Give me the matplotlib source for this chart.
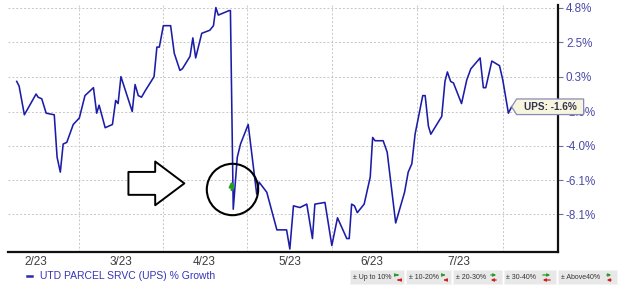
import matplotlib
matplotlib.use("Agg")
import matplotlib.pyplot as plt
import numpy as np
from matplotlib.patches import Polygon, Rectangle, FancyArrowPatch
from matplotlib.lines import Line2D

plt.rcParams['font.family'] = ['Liberation Sans', 'DejaVu Sans']

# trading-session position and % growth of UPS
session = [0, 0.6, 1.9, 4.8, 5.3, 6.2, 7.3, 9.3, 10.0, 10.8, 11.5, 12.4, 14.0, 15.5, 16.9,
           19.0, 19.8, 20.4, 21.9, 23.7, 24.5, 25.1, 25.8, 28.6, 29.3, 30.1, 30.9, 31.8,
           34.0, 34.7, 35.3, 36.3, 38.1, 39.0, 40.4, 41.0, 42.9, 43.6, 44.3, 45.8, 47.8,
           48.7, 49.3, 49.9, 52.6, 52.9, 53.6, 54.6, 55.4, 57.3, 59.4, 60.0, 61.9, 64.4,
           66.8, 67.6, 68.5, 70.1, 71.8, 73.2, 73.8, 76.3, 78.0, 79.4, 81.7, 82.3, 82.9,
           83.6, 84.3, 86.0, 87.5, 88.1, 88.7, 90.7, 91.7, 93.8, 96.0, 96.9, 97.8, 98.6,
           100.5, 101.1, 101.9, 102.5, 105.2, 106.0, 106.6, 107.4, 108.1, 110.1, 111.4,
           112.4, 114.7, 115.5, 116.1, 117.6, 119.5, 120.3, 121.7, 122.5]
growth = [0.0, -0.3, -2.1, -0.8, -1.0, -1.1, -2.0, -2.1, -4.7, -5.6, -3.9, -3.8, -2.7, -2.3, -0.9,
          -0.4, -2.0, -1.5, -2.9, -2.7, -1.2, -1.4, 0.3, -1.9, -0.2, -0.9, -1.0, -0.6,
          0.3, 2.2, 2.2, 3.6, 3.6, 1.8, 0.7, 0.8, 1.6, 2.8, 1.5, 3.1, 3.3,
          3.6, 4.8, 4.3, 4.6, 4.6, -7.8, -4.7, -3.9, -2.7, -6.9, -6.2, -6.8, -9.0,
          -9.0, -10.1, -7.6, -7.7, -7.5, -9.5, -7.5, -7.4, -9.9, -8.3, -9.5, -9.5, -7.5,
          -7.6, -8.0, -7.5, -5.9, -3.5, -3.7, -3.7, -4.4, -8.6, -6.8, -5.6, -5.1, -3.3,
          -0.9, -0.9, -2.8, -3.3, -2.2, 0.0, 0.6, 0.0, -0.1, -1.4, 0.1,
          0.8, 1.5, -0.4, -0.4, 1.3, 1.0, 0.1, -2.0, -1.6]

month_labels = ['2/23', '3/23', '4/23', '5/23', '6/23', '7/23']
month_pos = [4.8, 25.7, 46.4, 67.7, 87.9, 109.3]
grid_pos = [15.3, 36.3, 57.1, 78.1, 99.0, 120.3]
y_ticks = [4.8, 2.5, 0.3, -1.9, -4.0, -6.1, -8.1]
band_labels = ['\u00b1 Up to 10%', '\u00b1 10-20%', '\u00b1 20-30%', '\u00b1 30-40%', '\u00b1 Above40%']

event_x, event_y = 53.2, -6.6  # circled earnings gap

W, H = 620, 285
fig = plt.figure(figsize=(W / 100, H / 100), dpi=100)
ax = fig.add_axes([8 / W, 1 - 252 / H, 550.3 / W, 247 / H])

fwd = lambda g: np.log1p(np.asarray(g) / 100.0)
inv = lambda L: np.expm1(np.asarray(L)) * 100.0
ax.set_yscale('function', functions=(fwd, inv))

ax.plot(session, growth, color='#1c1ca8', lw=1.15, zorder=3)

ax.set_xlim(-2.15, 134.05)
ax.set_ylim(-10.27, 4.97)

ax.set_yticks(y_ticks)
ax.set_yticklabels([f'{v:.1f}%' for v in y_ticks])
ax.yaxis.tick_right()
ax.tick_params(axis='y', which='major', length=3.5, width=0.8, color='#7070a0',
               labelcolor='#4a4aa6', labelsize=8.4, pad=2)
ax.yaxis.set_minor_locator(matplotlib.ticker.NullLocator())

ax.set_xticks(month_pos)
ax.set_xticklabels(month_labels)
ax.set_xticks(grid_pos, minor=True)
ax.tick_params(axis='x', which='both', length=0, labelsize=8.5, labelcolor='#3c3c3c', pad=3)

ax.yaxis.grid(True, color='#c6c6c6', linestyle=(0, (2, 2)), lw=0.7)
ax.xaxis.grid(True, which='minor', color='#c6c6c6', linestyle=(0, (2, 2)), lw=0.7)
ax.xaxis.grid(False, which='major')
ax.set_axisbelow(True)

for s in ['top', 'left']:
    ax.spines[s].set_visible(False)
for s in ['right', 'bottom']:
    ax.spines[s].set_color('#111111')
    ax.spines[s].set_linewidth(1.6)

# circle round the gap
ax.plot([event_x], [event_y], marker='o', ms=37, mfc='none', mec='black', mew=1.5, zorder=4)

fig.canvas.draw()
to_fig = lambda px, py: (px / W, py / H)
cx, cy = ax.transData.transform((event_x, event_y))

# hollow pointer arrow to the left of the circle
fig.add_artist(FancyArrowPatch(to_fig(cx - 106, cy + 5.5), to_fig(cx - 44.5, cy + 5.5),
                               transform=fig.transFigure,
                               arrowstyle='simple,head_length=21,head_width=31.5,tail_width=16.5',
                               mutation_scale=1, fc='white', ec='black', lw=1.4, zorder=4))
# small green up arrow inside the circle
fig.add_artist(FancyArrowPatch(to_fig(cx, cy - 4), to_fig(cx, cy + 10.5),
                               transform=fig.transFigure, arrowstyle='-|>',
                               mutation_scale=7, color='#22a022', lw=1.6, zorder=4))

# last-value tooltip
tx, ty = ax.transData.transform((session[-1], growth[-1]))
pts = [(tx, ty), (tx + 5, ty + 7.8), (tx + 72, ty + 7.8), (tx + 72, ty - 7.8), (tx + 5, ty - 7.8)]
fig.add_artist(Polygon([to_fig(*p) for p in pts], closed=True, transform=fig.transFigure,
                       fc='#f7f5de', ec='#8a8ab8', lw=0.9, zorder=6))
fig.text(*to_fig(tx + 39, ty), f'UPS: {growth[-1]:.1f}%', ha='center', va='center',
         fontsize=7.2, fontweight='bold', color='#333350', zorder=7)

# series legend
fig.add_artist(Line2D([27 / W, 32 / W], [1 - 276 / H] * 2, transform=fig.transFigure,
                      color='#2b2bb0', lw=1.8))
fig.text(40 / W, 1 - 276 / H, 'UTD PARCEL SRVC (UPS) % Growth', ha='left', va='center',
         fontsize=7.5, color='#3535b5')

# growth-band key
box_x = [(350, 404), (406, 451), (453, 502), (503.5, 556), (558, 617)]
icon_w = [6, 7, 11, 13, 10]
for (x0, x1), lab, iw in zip(box_x, band_labels, icon_w):
    fig.add_artist(Rectangle((x0 / W, 1 - 284 / H), (x1 - x0) / W, 14 / H,
                             transform=fig.transFigure, fc='#e8e8e8', ec='#f4f4f4', lw=0.6))
    fig.text((x0 + 3) / W, 1 - 277.5 / H, lab, ha='left', va='center', fontsize=5,
             color='#333333')
    xe = x1 - 3
    fig.add_artist(FancyArrowPatch(to_fig(xe - iw, H - 275), to_fig(xe, H - 275),
                                   transform=fig.transFigure, arrowstyle='-|>',
                                   mutation_scale=4, color='#2a9a2a', lw=0.9, zorder=3))
    fig.add_artist(FancyArrowPatch(to_fig(xe, H - 280), to_fig(xe - iw, H - 280),
                                   transform=fig.transFigure, arrowstyle='-|>',
                                   mutation_scale=4, color='#d02020', lw=0.9, zorder=3))

fig.savefig('out.png', dpi=100)
